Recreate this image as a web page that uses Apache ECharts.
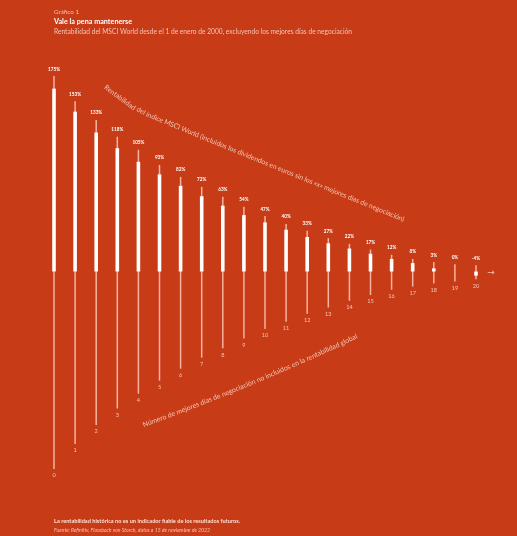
<!DOCTYPE html>
<html><head><meta charset="utf-8">
<script src="https://cdn.jsdelivr.net/npm/echarts@6/dist/echarts.min.js"></script>
<style>html,body{margin:0;padding:0;background:#C73B17;}#c{width:517px;height:536px;}</style>
</head><body><div id="c"></div>
<script>
// ---- data ----
const days = [0,1,2,3,4,5,6,7,8,9,10,11,12,13,14,15,16,17,18,19,20];
const returns = [175,153,133,118,105,93,82,72,63,54,47,40,33,27,22,17,12,8,3,0,-4];
const returnLabels = ['175%','153%','133%','118%','105%','93%','82%','72%','63%','54%','47%','40%','33%','27%','22%','17%','12%','8%','3%','0%','-4%'];
const upperTips = [187,163,145,129,116.5,102,90.5,81,71.5,62,53,45.5,39,32,26.5,21,16,12,9,7,6];
const lowerTips = [-189,-165,-147,-131,-117,-104.5,-93,-82.5,-73.5,-64,-55,-48,-40.5,-34.5,-28,-22.5,-17.5,-14.5,-11.5,-9.5,-7.5];

const titleSmall = 'Gráfico 1';
const titleMain = 'Vale la pena mantenerse';
const subtitle = 'Rentabilidad del MSCI World desde el 1 de enero de 2000, excluyendo los mejores días de negociación';
const upperCaption = 'Rentabilidad del índice MSCI World (incluidos los dividendos en euros sin los «x» mejores días de negociación)';
const lowerCaption = 'Número de mejores días de negociación no incluidos en la rentabilidad global';
const footNote = 'La rentabilidad histórica no es un indicador fiable de los resultados futuros.';
const source = 'Fuente: Refinitiv, Flossbach von Storch, datos a 15 de noviembre de 2022';

// ---- helpers ----
const FAM = 'Lato';
const PINK = '#F6C4B4';
const LINE = '#F5B3A0';
const cv = document.createElement('canvas').getContext('2d');
function measure(text, size, weight, style){ cv.font = (style||'normal')+' '+(weight||'normal')+' '+size+'px '+FAM; return cv.measureText(text).width; }
function fit(text, target, weight, style){ return 20*target/measure(text,20,weight,style); }

// text of given font size, horizontally squeezed to a target width
function label(text, x, y, size, target, opts){
  opts = opts||{};
  const sx = target/measure(text,size,opts.weight,opts.style);
  return {type:'text', x:x, y:y, scaleX:sx, silent:true,
    style:{text:text, fontSize:size, fontFamily:FAM, fontWeight:opts.weight||'normal', fontStyle:opts.style||'normal',
      fill:opts.fill||PINK, align:'left', verticalAlign:'middle'}};
}

function polyPath(pts){
  const segs=[]; let total=0;
  for(let i=1;i<pts.length;i++){const dx=pts[i][0]-pts[i-1][0], dy=pts[i][1]-pts[i-1][1]; const l=Math.hypot(dx,dy); segs.push({p:pts[i-1],dx,dy,l,s:total}); total+=l;}
  return {total, at(s){ let sg=segs[segs.length-1]; for(const g of segs){ if(s<=g.s+g.l){sg=g;break;} } const t=Math.max(0,Math.min(1,(s-sg.s)/sg.l)); return {x:sg.p[0]+sg.dx*t, y:sg.p[1]+sg.dy*t, a:Math.atan2(sg.dy,sg.dx)}; }};
}
function bezierPts(p0,p1,p2,n){ const r=[]; for(let i=0;i<=n;i++){const t=i/n,u=1-t; r.push([u*u*p0[0]+2*u*t*p1[0]+t*t*p2[0], u*u*p0[1]+2*u*t*p1[1]+t*t*p2[1]]);} return r; }
function textOnPath(text, pts, color, size){
  const path = polyPath(pts);
  const sx = path.total/measure(text,size);
  const words = text.split(' ');
  const out=[]; let s=0; const sp = measure(' ', size)*sx;
  words.forEach(w=>{
    const ww = measure(w,size)*sx;
    const p = path.at(s+ww/2);
    out.push({type:'text', x:p.x, y:p.y, rotation:-p.a, scaleX:sx, silent:true,
      style:{text:w, fontSize:size, fontFamily:FAM, fill:color, align:'center', verticalAlign:'middle'}});
    s += ww + sp;
  });
  return out;
}

const valSize = fit('175%', 12, 'bold');
const numSize = fit('10', 6.5);

const chart = echarts.init(document.getElementById('c'), null, {renderer:'canvas'});
const graphics = [
  label(titleSmall, 54, 11.7, 6.5, 25),
  label(titleMain, 54, 21.7, 7.3, 78, {weight:'bold', fill:'#ffffff'}),
  label(subtitle, 54, 31.7, 7, 298),
  label(footNote, 54, 521, 6.3, 186, {weight:'bold', fill:'#FBE0D6'}),
  label(source, 54, 529.5, 6.3, 156, {style:'italic'}),
  {type:'text', x:491, y:273, silent:true, style:{text:'→', fontSize:9, fontFamily:'DejaVu Sans', fill:PINK, align:'center', verticalAlign:'middle'}}
].concat(
  textOnPath(upperCaption, [[105,86.5],[130,105],[150,115.5],[404,219.5]], PINK, 7),
  textOnPath(lowerCaption, bezierPts([143,425],[250,386],[357,336],40), PINK, 7)
);

chart.setOption({
  backgroundColor:'#C73B17',
  animation:false,
  grid:{left:54, right:41, top:83.4, bottom:55.5, containLabel:false},
  xAxis:{type:'value', min:0, max:20, show:false},
  yAxis:{type:'value', min:-200, max:180, show:false},
  graphic:graphics,
  series:[{
    type:'custom', silent:true, clip:false,
    data: days.map((d,i)=>[d, returns[i], upperTips[i], lowerTips[i]]),
    encode:{x:0, y:[1,2,3]},
    renderItem(params, api){
      const idx = params.dataIndex;
      const x = api.value(0);
      const pUp = api.coord([x, api.value(2)]);
      const pLo = api.coord([x, api.value(3)]);
      const p0 = api.coord([x, 0]);
      const pv = api.coord([x, api.value(1)]);
      const h = Math.abs(pv[1]-p0[1]);
      const ch = [
        {type:'line', shape:{x1:pUp[0], y1:pUp[1], x2:pLo[0], y2:pLo[1]}, style:{stroke:LINE, lineWidth:1.5}},
        {type:'text', style:{text:returnLabels[idx], x:pUp[0], y:pUp[1]-7, align:'center', verticalAlign:'middle', fontSize:valSize, fontWeight:'bold', fontFamily:FAM, fill:'#ffffff'}},
        {type:'text', style:{text:String(days[idx]), x:pLo[0], y:pLo[1]+6.5, align:'center', verticalAlign:'middle', fontSize:numSize, fontFamily:FAM, fill:PINK}}
      ];
      if(h>0) ch.push({type:'rect', shape:{x:p0[0]-1.8, y:Math.min(p0[1],pv[1]), width:3.6, height:h}, style:{fill:'#ffffff'}});
      return {type:'group', children:ch};
    }
  }]
});
</script></body></html>
